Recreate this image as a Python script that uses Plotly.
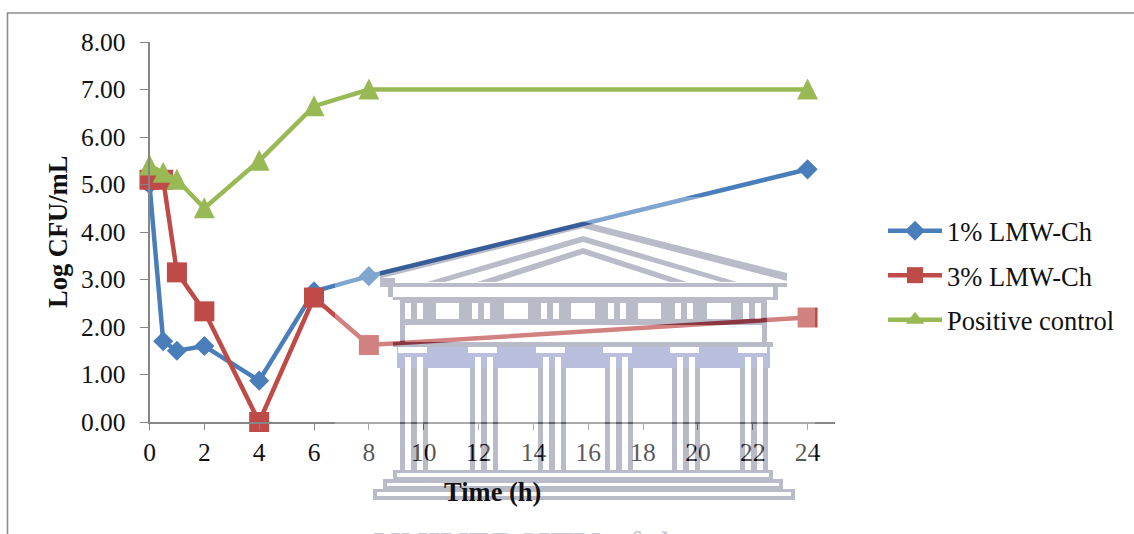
import plotly.graph_objects as go

# Sampling times (h) and log counts for each treatment
times = [0, 0.5, 1, 2, 4, 6, 8, 24]
low_dose = [5.0, 1.70, 1.50, 1.60, 0.87, 2.75, 3.07, 5.32]
high_dose = [5.10, 5.10, 3.15, 2.33, 0.0, 2.62, 1.62, 2.20]
positive_control = [5.40, 5.25, 5.10, 4.50, 5.50, 6.65, 7.0, 7.0]

series_names = ["1% LMW-Ch", "3% LMW-Ch", "Positive control"]
series_colors = ["#4A7EBB", "#BE4B48", "#98B954"]
series_symbols = ["diamond", "square", "triangle-up"]
series_sizes = [15.5, 20, 20]

x_ticks = list(range(0, 25, 2))
y_ticks = [0, 1, 2, 3, 4, 5, 6, 7, 8]

WIDTH, HEIGHT = 1134, 534
SERIF = "Liberation Serif, Times New Roman, serif"
AXIS_GREY = "#868686"


def px(x):
    return x / WIDTH


def py(y):
    return 1 - y / HEIGHT


def poly(*pts):
    return "M" + "L".join(f"{px(x):.6f},{py(y):.6f}" for x, y in pts) + "Z"


def rect(x0, y0, x1, y1):
    return poly((x0, y0), (x1, y0), (x1, y1), (x0, y1))


# University crest behind the plot: an even-odd path, so inner rectangles cut holes
roof = [
    poly((380, 271), (583, 221.5), (787, 273), (787, 281), (583, 228), (382, 278), (380, 278)),
    poly((427, 282), (583, 236), (737, 282), (721, 282), (583, 242), (445, 282)),
    poly((477, 282), (583, 248), (687, 282), (670, 282), (583, 254), (496, 282)),
    rect(380, 278, 395, 283),
    rect(380, 283, 787, 287),
    rect(388, 287, 393, 297),
    rect(773, 287, 778, 297),
    rect(393, 297, 778, 300),
]

frieze = [rect(400, 300, 767, 325)]
for x0, x1 in [(436, 459), (504, 528), (571, 595), (638, 661), (707, 731)]:
    frieze.append(rect(x0, 303, x1, 319))
for x0 in [405, 472, 541, 608, 675, 743]:
    frieze.append(rect(x0, 303, x0 + 6, 319))
    frieze.append(rect(x0 + 12, 303, x0 + 18, 319))

walls = [rect(400, 325, 405, 342), rect(762, 325, 767, 342), rect(393, 342, 773, 347)]

column_starts = [400, 470, 538, 605, 672, 740]
band = [rect(397, 347, 770, 368)]
for x0 in column_starts:
    band.append(rect(x0 - 2, 347, x0 + 27, 353))
    band.append(rect(x0 + 5, 357, x0 + 11, 368))
    band.append(rect(x0 + 17, 357, x0 + 23, 368))

columns = []
for x0 in column_starts:
    columns.append(rect(x0, 368, x0 + 28, 470))
    columns.append(rect(x0 + 5, 368, x0 + 11, 470))
    columns.append(rect(x0 + 17, 368, x0 + 23, 470))

steps = [
    rect(393, 470, 773, 479), rect(397, 473, 769, 477),
    rect(383, 479, 783, 489), rect(387, 483, 779, 486),
    rect(373, 489, 795, 500), rect(377, 492, 791, 496),
]

crest_grey = "".join(roof + frieze + walls + columns + steps)
crest_blue = "".join(band)
crest_hole = rect(335, 197, 815, 534) + crest_grey + crest_blue

shapes = [
    # page frame, open at the right and bottom
    dict(type="path", xref="paper", yref="paper", layer="below",
         path=f"M{px(1134)},{py(13)}L{px(7.5)},{py(13)}L{px(7.5)},{py(534)}",
         line=dict(color="#8C8C8C", width=1.6)),
    # white veil over everything that is not crest
    dict(type="path", xref="paper", yref="paper", layer="above", path=crest_hole,
         fillcolor="rgba(255,255,255,0.30)", fillrule="evenodd", line=dict(width=0)),
    dict(type="path", xref="paper", yref="paper", layer="above", path=crest_grey,
         fillcolor="rgba(0,5,55,0.27)", fillrule="evenodd", line=dict(width=0)),
    dict(type="path", xref="paper", yref="paper", layer="above", path=crest_blue,
         fillcolor="rgba(0,15,130,0.27)", fillrule="evenodd", line=dict(width=0)),
]

fig = go.Figure()
for name, values, color, symbol, size in zip(
    series_names, [low_dose, high_dose, positive_control],
    series_colors, series_symbols, series_sizes,
):
    fig.add_trace(go.Scatter(
        x=times, y=values, name=name, mode="lines+markers", legendgroup=name,
        cliponaxis=False,
        line=dict(color=color, width=4.5),
        marker=dict(symbol=symbol, size=size, color=color, line=dict(width=0)),
    ))

fig.update_layout(
    template="none",
    width=WIDTH, height=HEIGHT, autosize=False,
    margin=dict(l=0, r=0, t=0, b=0, pad=0),
    paper_bgcolor="white", plot_bgcolor="white",
    font=dict(family=SERIF, size=25, color="#111111"),
    shapes=shapes,
    showlegend=True,
    legend=dict(
        x=px(883), y=py(207), xanchor="left", yanchor="top",
        itemwidth=54, tracegroupgap=7, traceorder="grouped",
        font=dict(family=SERIF, size=26.5, color="#111111"),
        bgcolor="rgba(0,0,0,0)", itemclick=False, itemdoubleclick=False,
    ),
    xaxis=dict(
        domain=[px(149.5), px(835)], range=[0, 25], automargin=False,
        tickvals=x_ticks, ticktext=[str(t) for t in x_ticks],
        ticks="outside", ticklen=6, tickwidth=1.2, tickcolor=AXIS_GREY,
        showline=True, linecolor=AXIS_GREY, linewidth=1.6,
        showgrid=False, zeroline=False, ticklabelstandoff=1,
        tickfont=dict(family=SERIF, size=25.5, color="#111111"),
    ),
    yaxis=dict(
        domain=[py(422), py(42)], range=[0, 8], automargin=False,
        tickvals=y_ticks, ticktext=[f"{t:.2f}" for t in y_ticks],
        ticks="outside", ticklen=8, tickwidth=1.2, tickcolor=AXIS_GREY,
        showline=True, linecolor=AXIS_GREY, linewidth=1.6,
        showgrid=False, zeroline=False, ticklabelstandoff=9,
        tickfont=dict(family=SERIF, size=25.5, color="#111111"),
    ),
    annotations=[
        dict(text="<b>Time (h)</b>", x=px(492.5), y=py(492), xref="paper", yref="paper",
             showarrow=False, xanchor="center", yanchor="middle",
             font=dict(family=SERIF, size=26.5, color="#111111")),
        dict(text="<b>Log CFU/mL</b>", x=px(58), y=py(232), xref="paper", yref="paper",
             showarrow=False, xanchor="center", yanchor="middle", textangle=-90,
             font=dict(family=SERIF, size=26.5, color="#111111")),
        dict(text="UNIVERSITY of the", x=px(535), y=py(522), xref="paper", yref="paper",
             showarrow=False, xanchor="center", yanchor="top",
             font=dict(family=SERIF, size=38, color="#C8C9D2")),
    ],
)

# Plotly's triangle-up is squat; redraw the plot's triangles as tall as they are wide
tall_triangles = """
document.querySelectorAll('.scatterlayer .trace:nth-child(3) path.point')
  .forEach(function (p) { p.setAttribute('d', 'M-10.5,10H10.5L0,-11Z'); });
"""

fig.write_html("out.html", post_script=tall_triangles)
